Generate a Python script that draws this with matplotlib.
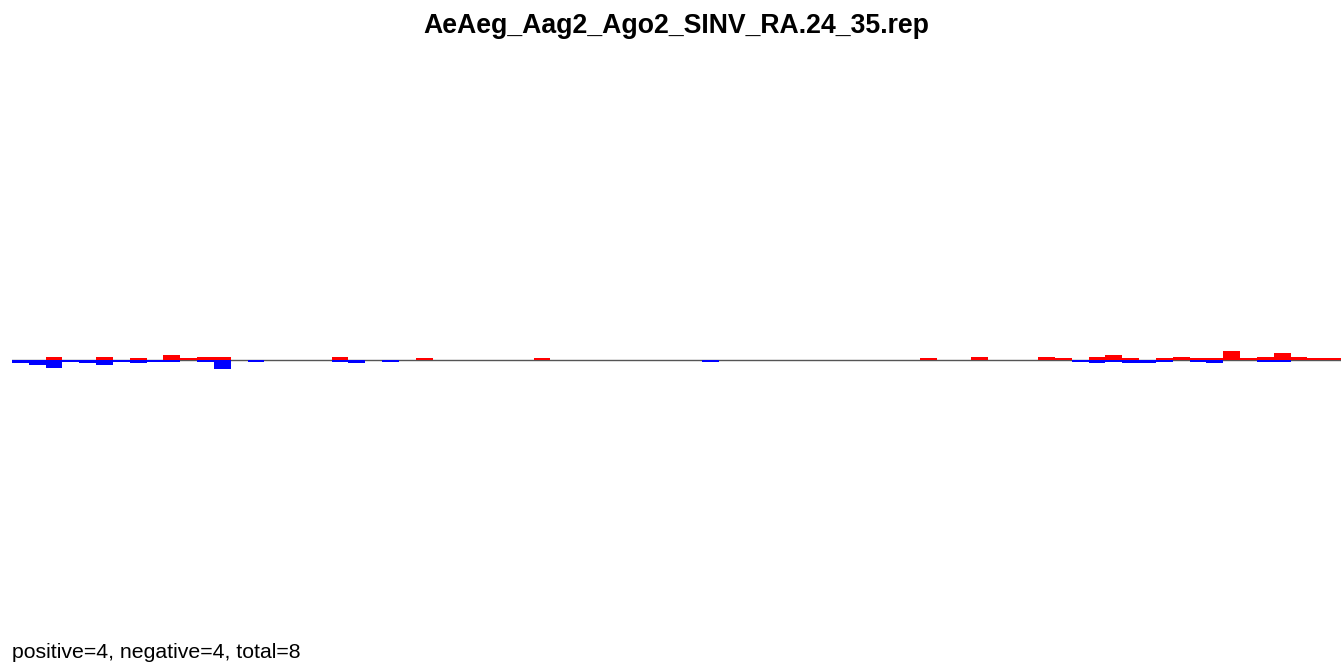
import numpy as np
import matplotlib
matplotlib.use("Agg")
import matplotlib.pyplot as plt

plt.rcParams['font.family'] = ['Liberation Sans', 'DejaVu Sans']

title = "AeAeg_Aag2_Ago2_SINV_RA.24_35.rep"
footer = "positive=4, negative=4, total=8"

n_bins = 79
# read counts per bin (index: value), all other bins are zero
pos_counts = {2: 2, 5: 2, 7: 1, 9: 3, 10: 1, 11: 2, 12: 2, 19: 2, 24: 1, 31: 1,
              54: 1, 57: 2, 61: 2, 62: 1, 64: 2, 65: 3, 66: 1, 68: 1, 69: 2,
              70: 1, 71: 1, 72: 5, 73: 1, 74: 2, 75: 4, 76: 2, 77: 1, 78: 1}
neg_counts = {0: 2, 1: 3, 2: 4.5, 3: 1, 4: 2, 5: 3, 6: 1, 7: 2, 8: 1, 9: 1,
              11: 1, 12: 5, 14: 1, 19: 1, 20: 2, 22: 1, 41: 1, 63: 1, 64: 2,
              65: 1, 66: 2, 67: 2, 68: 1, 70: 1, 71: 2, 74: 1, 75: 1}

pos = np.zeros(n_bins)
neg = np.zeros(n_bins)
for k, v in pos_counts.items():
    pos[k] = v
for k, v in neg_counts.items():
    neg[k] = v

fig = plt.figure(figsize=(13.43, 6.64), dpi=100)
# plot area: x 12..1341 px, zero line at y=360 px
ax = fig.add_axes([12 / 1343, (664 - 620) / 664, 1329 / 1343, 520 / 664])

x = np.arange(n_bins)
ax.axhline(0, color='#555555', lw=1, zorder=1)
ax.bar(x, pos, width=1, align='edge', color='#ff0000', edgecolor='none',
       antialiased=False, zorder=2)
ax.bar(x, -neg, width=1, align='edge', color='#0000ff', edgecolor='none',
       antialiased=False, zorder=2)

ax.set_xlim(0, n_bins)
ax.set_ylim(-150, 150)
ax.axis('off')

fig.text(676.5 / 1343, 1 - 26 / 664, title, ha='center', va='center',
         fontsize=19.2, fontweight='bold')
fig.text(12 / 1343, 1 - 652 / 664, footer, ha='left', va='center', fontsize=15.3)

fig.savefig('out.png', dpi=100)
